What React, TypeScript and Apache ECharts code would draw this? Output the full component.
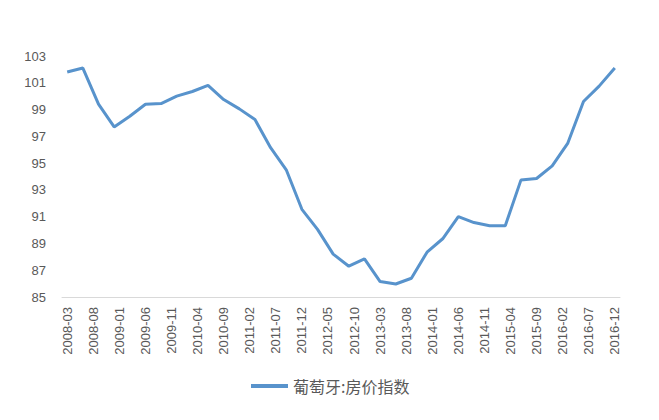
import React, { useEffect, useRef } from "react";
import * as echarts from "echarts";

const seriesName = "葡萄牙:房价指数";

const quarters = [
  "2008-03", "2008-06", "2008-09", "2008-12",
  "2009-03", "2009-06", "2009-09", "2009-12",
  "2010-03", "2010-06", "2010-09", "2010-12",
  "2011-03", "2011-06", "2011-09", "2011-12",
  "2012-03", "2012-06", "2012-09", "2012-12",
  "2013-03", "2013-06", "2013-09", "2013-12",
  "2014-03", "2014-06", "2014-09", "2014-12",
  "2015-03", "2015-06", "2015-09", "2015-12",
  "2016-03", "2016-06", "2016-09", "2016-12",
];

const values = [
  101.8, 102.1, 99.4, 97.7,
  98.5, 99.4, 99.45, 100.0,
  100.35, 100.8, 99.75, 99.05,
  98.25, 96.15, 94.5, 91.55,
  90.05, 88.2, 87.3, 87.85,
  86.15, 85.97, 86.4, 88.35,
  89.35, 91.0, 90.56, 90.32,
  90.32, 93.73, 93.85, 94.8,
  96.5, 99.6, 100.75, 102.1,
];

const tickLabels = [
  "2008-03", "2008-08", "2009-01", "2009-06", "2009-11", "2010-04",
  "2010-09", "2011-02", "2011-07", "2011-12", "2012-05", "2012-10",
  "2013-03", "2013-08", "2014-01", "2014-06", "2014-11", "2015-04",
  "2015-09", "2016-02", "2016-07", "2016-12",
];

const monthIndex = (s: string) => {
  const [y, m] = s.split("-").map(Number);
  return (y - 2008) * 12 + (m - 3);
};

const indexToLabel = (i: number) => {
  const total = i + 2;
  const y = 2008 + Math.floor(total / 12);
  const m = (total % 12) + 1;
  return `${y}-${m < 10 ? "0" + m : m}`;
};

export default function App() {
  const ref = useRef<HTMLDivElement>(null);
  useEffect(() => {
    if (!ref.current) return;
    const chart = echarts.init(ref.current, undefined, { renderer: "svg" });
    const data = quarters.map((q, i) => [monthIndex(q), values[i]]);
    const tickPos = tickLabels.map(monthIndex);
    chart.setOption({
      animation: false,
      backgroundColor: "#ffffff",
      grid: { left: 62, right: 39, top: 56, bottom: 123, containLabel: false },
      legend: {
        data: [{ name: seriesName }],
        left: 246,
        top: 373,
        icon: "rect",
        itemWidth: 37,
        itemHeight: 4,
        textStyle: {
          color: "#595959",
          fontSize: 16,
          fontFamily: "'Noto Sans CJK SC', sans-serif",
        },
      },
      xAxis: {
        type: "value",
        min: -1,
        max: 106,
        axisLine: { show: true, lineStyle: { color: "#d9d9d9", width: 1 } },
        axisTick: { show: false },
        splitLine: { show: false },
        axisLabel: {
          customValues: tickPos,
          rotate: 90,
          margin: 10,
          color: "#595959",
          fontSize: 13,
          fontFamily: "'Liberation Sans', Arial, sans-serif",
          formatter: (v: number) => indexToLabel(Math.round(v)),
        },
      },
      yAxis: {
        type: "value",
        min: 85,
        max: 103,
        interval: 2,
        axisLine: { show: false },
        axisTick: { show: false },
        splitLine: { show: false },
        axisLabel: {
          margin: 16,
          color: "#595959",
          fontSize: 13,
          fontFamily: "'Liberation Sans', Arial, sans-serif",
        },
      },
      series: [
        {
          name: seriesName,
          type: "line",
          data,
          showSymbol: false,
          symbol: "none",
          lineStyle: { color: "#5893CC", width: 3 },
          itemStyle: { color: "#5893CC" },
        },
      ],
    });
    return () => chart.dispose();
  }, []);
  return <div ref={ref} style={{ width: 659, height: 420, position: "absolute", left: 0, top: 0 }} />;
}
